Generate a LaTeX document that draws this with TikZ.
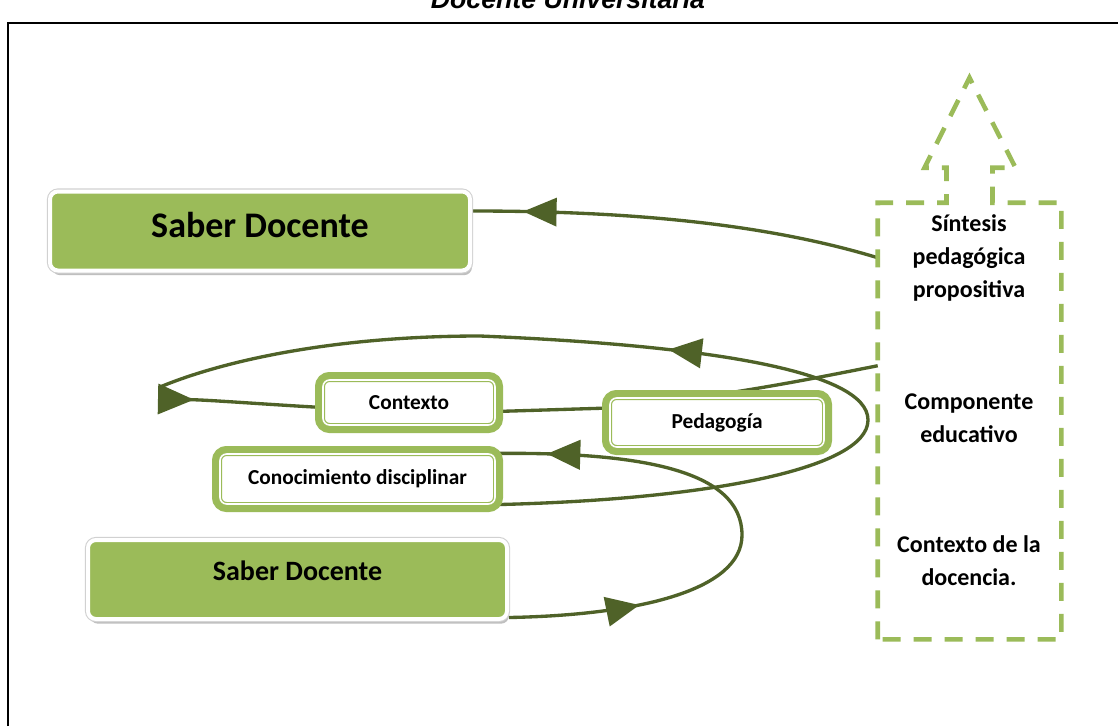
\documentclass[tikz,border=0pt]{standalone}
\usepackage{fontspec}
\setmainfont{Carlito}
\newfontfamily\titlefont{Liberation Sans}
\usetikzlibrary{arrows.meta,decorations.markings,shadows,calc,backgrounds}
\definecolor{gfill}{RGB}{155,187,89}
\definecolor{dgreen}{RGB}{79,98,40}
\begin{document}
\begin{tikzpicture}[x=0.75pt,y=-0.75pt,
  saber/.style={fill=gfill, draw=white, line width=3pt, rounded corners=6pt,
    text=black, inner sep=0pt,
    drop shadow={shadow xshift=1.5pt, shadow yshift=-3.5pt, fill=black!45, opacity=0.55},
    preaction={draw=black!18, line width=4.6pt}},
  dbox/.style={rounded corners=5pt, fill=white, draw=gfill, line width=0.9pt,
    double=white, double distance=1.2pt, inner sep=0pt,
    preaction={draw=gfill, line width=12pt},
    font=\bfseries\fontsize{16pt}{19pt}\selectfont},
  syntext/.style={align=center, font=\bfseries\fontsize{18pt}{24.75pt}\selectfont},
  conn/.style={draw=dgreen, line width=2.5pt},
  synline/.style={draw=gfill, line width=3.4pt, dash pattern=on 13.5pt off 9.75pt}]
\useasboundingbox (0,0) rectangle (1118,726);
\clip (0,0) rectangle (1118,726);

% frame and title
\draw[line width=1.1pt] (8,726) -- (8,23) -- (1118,23);
\node[font=\titlefont\bfseries\itshape\fontsize{20pt}{24pt}\selectfont, anchor=base, inner sep=0pt]
  (title) at (568,8) {Docente Universitaria};

% main boxes
\node[saber, minimum width=315pt, minimum height=59.25pt, text depth=9pt,
  font=\bfseries\fontsize{27pt}{30pt}\selectfont] (sd1) at (260,231) {Saber Docente};
\node[saber, minimum width=314.25pt, minimum height=59.25pt, text depth=12.75pt,
  font=\bfseries\fontsize{21pt}{24pt}\selectfont] (sd2) at (297.5,579.5) {Saber Docente};

\node[dbox, minimum width=129pt, minimum height=33.75pt] (ctx) at (409,402.5) {Contexto};
\node[dbox, minimum width=160.5pt, minimum height=36.75pt] (ped) at (717,422.5) {Pedagogía};
\node[dbox, minimum width=206.25pt, minimum height=37.5pt] (cono) at (357.5,479) {Conocimiento disciplinar};

% synthesis box
\node[minimum width=137.25pt, minimum height=327pt, inner sep=0pt] (syn) at (969.5,421) {};
\draw[synline] (syn.south west) -- (syn.north west)
  -- ($(syn.north)+(-23,0)$) -- ($(syn.north)+(-23,-35)$) -- ($(syn.north)+(-45,-35)$)
  -- ($(syn.north)+(0,-125)$) -- ($(syn.north)+(46,-35)$) -- ($(syn.north)+(23,-35)$)
  -- ($(syn.north)+(23,0)$) -- (syn.north east) -- (syn.south east) -- cycle;
\node[syntext] (t1) at (969,258) {Síntesis\\pedagógica\\propositiva};
\node[syntext] (t2) at (969,418) {Componente\\educativo};
\node[syntext] (t3) at (969,561) {Contexto de la\\docencia.};

\coordinate (lend) at (158,399);
\coordinate (lpt) at (160,387);

\begin{scope}[on background layer]
\fill[white] (0,0) rectangle (1118,726);
% synthesis -> top Saber Docente
\draw[conn, postaction={decorate}, decoration={markings,
    mark=at position 0.875 with {\arrow{Triangle[length=25pt,width=21pt]}}}]
  ($(syn.north west)+(0,55)$) .. controls (760,222) and (620,211) .. ($(sd1.east)+(0,-20)$);
% synthesis -> Pedagogia -> Contexto -> left end
\draw[conn, -{Triangle[reversed,length=27pt,width=22.5pt]}]
  ($(syn.north west)+(0,163)$) .. controls (815,378) and (730,396) .. ($(ped.west)+(0,-14.5)$)
  -- ($(ctx.east)+(0,9)$) -- ($(ctx.west)+(0,5)$) .. controls (260,404) and (210,400) .. (lend);
% big loop from Conocimiento disciplinar
\draw[conn, postaction={decorate}, decoration={markings,
    mark=at position 0.545 with {\arrow{Triangle[length=25pt,width=22pt]}}}]
  (cono.south east) .. controls (700,500) and (868,470) .. (868,420)
  .. controls (868,370) and (700,345) .. (480,336)
  .. controls (330,336) and (220,362) .. (lpt);
% bottom Saber Docente -> Conocimiento disciplinar
\draw[conn, postaction={decorate}, decoration={markings,
    mark=at position 0.24 with {\arrow{Triangle[length=25pt,width=22pt]}},
    mark=at position 0.906 with {\arrow{Triangle[length=25pt,width=22pt]}}}]
  ($(sd2.east)+(0,38)$) .. controls (640,615) and (742,590) .. (742,535)
  .. controls (742,470) and (640,452) .. (cono.north east);
\end{scope}
\end{tikzpicture}
\end{document}
